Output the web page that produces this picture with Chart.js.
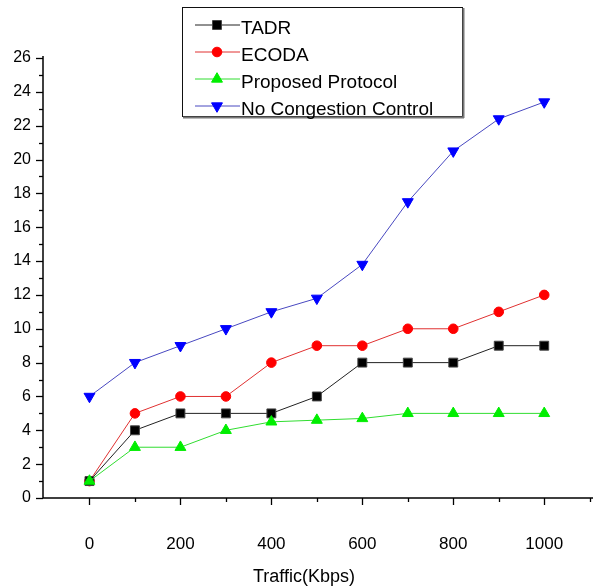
<!DOCTYPE html>
<html>
<head>
<meta charset="utf-8">
<script src="https://cdn.jsdelivr.net/npm/chart.js@4.4.1/dist/chart.umd.min.js"></script>
<style>
    html, body { margin: 0; padding: 0; background: #fff; overflow: hidden; }
    #box { width: 597px; height: 588px; }
</style>
</head>
<body>
<div id="box"><canvas id="grafico" width="597" height="588"></canvas></div>
<script>
// trafego em Kbps
var trafego = [0, 100, 200, 300, 400, 500, 600, 700, 800, 900, 1000];
var tadr = [1, 4, 5, 5, 5, 6, 8, 8, 8, 9, 9];
var ecoda = [1, 5, 6, 6, 8, 9, 9, 10, 10, 11, 12];
var proposto = [1, 3, 3, 4, 4.5, 4.6, 4.7, 5, 5, 5, 5];
var semControle = [6, 8, 9, 10, 11, 11.8, 13.8, 17.5, 20.5, 22.4, 23.4];
var rotulosX = [0, 200, 400, 600, 800, 1000];
var rotulosY = [0, 2, 4, 6, 8, 10, 12, 14, 16, 18, 20, 22, 24, 26];

function pontos(valores) {
    return valores.map((v, i) => ({ x: trafego[i], y: v }));
}

// eixos, marcas menores e legenda desenhados a mao
var eixosPlugin = {
    id: 'eixos',
    afterDraw: function(chart) {
        var ctx = chart.ctx;
        var sx = chart.scales.x, sy = chart.scales.y;
        var x0 = chart.chartArea.left;
        var y0 = sy.getPixelForValue(0);
        ctx.save();
        ctx.strokeStyle = '#000';
        ctx.lineWidth = 1.5;
        ctx.beginPath();
        ctx.moveTo(x0 - 1, sy.getPixelForValue(26) - 2);
        ctx.lineTo(x0 - 1, y0);
        ctx.lineTo(597, y0);
        ctx.stroke();

        ctx.lineWidth = 1.3;
        for (var v = 0; v <= 26; v++) {
            var py = Math.round(sy.getPixelForValue(v)) + 0.5;
            var len = rotulosY.indexOf(v) >= 0 ? 7 : 4;
            ctx.beginPath();
            ctx.moveTo(x0 - 1 - len, py);
            ctx.lineTo(x0 - 1, py);
            ctx.stroke();
        }
        for (var t = 0; t <= 1100; t += 100) {
            var px = Math.round(sx.getPixelForValue(t)) + 0.5;
            var l = rotulosX.indexOf(t) >= 0 ? 7 : 4;
            ctx.beginPath();
            ctx.moveTo(px, y0);
            ctx.lineTo(px, y0 + l);
            ctx.stroke();
        }

        ctx.fillStyle = '#000';
        ctx.font = '18px "Liberation Sans", Arial, sans-serif';
        ctx.textAlign = 'center';
        ctx.textBaseline = 'middle';
        ctx.fillText('Traffic(Kbps)', 304, 577);

        // legenda
        ctx.fillStyle = '#fff';
        ctx.fillRect(182.5, 7.5, 280, 109);
        ctx.strokeStyle = '#111';
        ctx.lineWidth = 1;
        ctx.strokeRect(182.5, 7.5, 280, 109);
        ctx.strokeStyle = '#777';
        ctx.lineWidth = 2;
        ctx.beginPath();
        ctx.moveTo(183, 117.5);
        ctx.lineTo(464, 117.5);
        ctx.moveTo(463.5, 8);
        ctx.lineTo(463.5, 118);
        ctx.stroke();

        ctx.font = '19px "Liberation Sans", Arial, sans-serif';
        ctx.textAlign = 'left';
        chart.data.datasets.forEach(function(ds, i) {
            var yy = 25 + i * 27;
            ctx.strokeStyle = ds.borderColor;
            ctx.lineWidth = 1;
            ctx.beginPath();
            ctx.moveTo(195, yy);
            ctx.lineTo(240, yy);
            ctx.stroke();
            ctx.fillStyle = ds.pointBackgroundColor;
            ctx.strokeStyle = ds.pointBorderColor;
            Chart.helpers.drawPoint(ctx, {
                pointStyle: ds.pointStyle,
                rotation: ds.pointRotation || 0,
                radius: ds.pointRadius,
                borderWidth: 1
            }, 217, yy);
            ctx.fillStyle = '#000';
            ctx.fillText(ds.label, 241, yy + 4);
        });
        ctx.restore();
    }
};

var contexto = document.getElementById('grafico').getContext('2d');
new Chart(contexto, {
    type: 'line',
    data: {
        datasets: [{
            label: 'TADR',
            data: pontos(tadr),
            borderColor: '#222',
            pointBackgroundColor: '#000',
            pointBorderColor: '#444',
            pointStyle: 'rect',
            pointRadius: 6.3,
            order: 2
        }, {
            label: 'ECODA',
            data: pontos(ecoda),
            borderColor: '#e03030',
            pointBackgroundColor: '#ff0000',
            pointBorderColor: '#ff0000',
            pointStyle: 'circle',
            pointRadius: 4.8,
            order: 3
        }, {
            label: 'Proposed Protocol',
            data: pontos(proposto),
            borderColor: '#30dd30',
            pointBackgroundColor: '#00ee00',
            pointBorderColor: '#00ee00',
            pointStyle: 'triangle',
            pointRadius: 6.3,
            order: 1
        }, {
            label: 'No Congestion Control',
            data: pontos(semControle),
            borderColor: '#4848c0',
            pointBackgroundColor: '#0000ff',
            pointBorderColor: '#0000ff',
            pointStyle: 'triangle',
            pointRotation: 180,
            pointRadius: 6.3,
            order: 4
        }]
    },
    options: {
        responsive: false,
        devicePixelRatio: 1,
        animation: false,
        elements: {
            line: { borderWidth: 1, tension: 0 },
            point: { borderWidth: 1, hoverRadius: 6 }
        },
        layout: { padding: { top: 58, right: 0, left: 0, bottom: 0 } },
        scales: {
            x: {
                type: 'linear',
                min: -100,
                max: 1100,
                grid: { display: false, drawTicks: false },
                border: { display: false },
                ticks: {
                    stepSize: 100,
                    autoSkip: false,
                    maxRotation: 0,
                    padding: 36,
                    color: '#000',
                    font: { family: '"Liberation Sans", Arial, sans-serif', size: 17 },
                    callback: v => rotulosX.indexOf(v) >= 0 ? v : ''
                },
                afterFit: function(escala) {
                    escala.height = 90;
                    escala.paddingLeft = 0;
                    escala.paddingRight = 0;
                }
            },
            y: {
                min: 0,
                max: 26,
                grid: { display: false, drawTicks: false },
                border: { display: false },
                ticks: {
                    stepSize: 1,
                    autoSkip: false,
                    padding: 13,
                    color: '#000',
                    font: { family: '"Liberation Sans", Arial, sans-serif', size: 16 },
                    callback: v => rotulosY.indexOf(v) >= 0 ? v : ''
                },
                afterFit: function(escala) {
                    escala.width = 44;
                    escala.paddingTop = 0;
                    escala.paddingBottom = 0;
                }
            }
        },
        plugins: {
            legend: { display: false },
            tooltip: { enabled: false }
        }
    },
    plugins: [eixosPlugin]
});
</script>
</body>
</html>
